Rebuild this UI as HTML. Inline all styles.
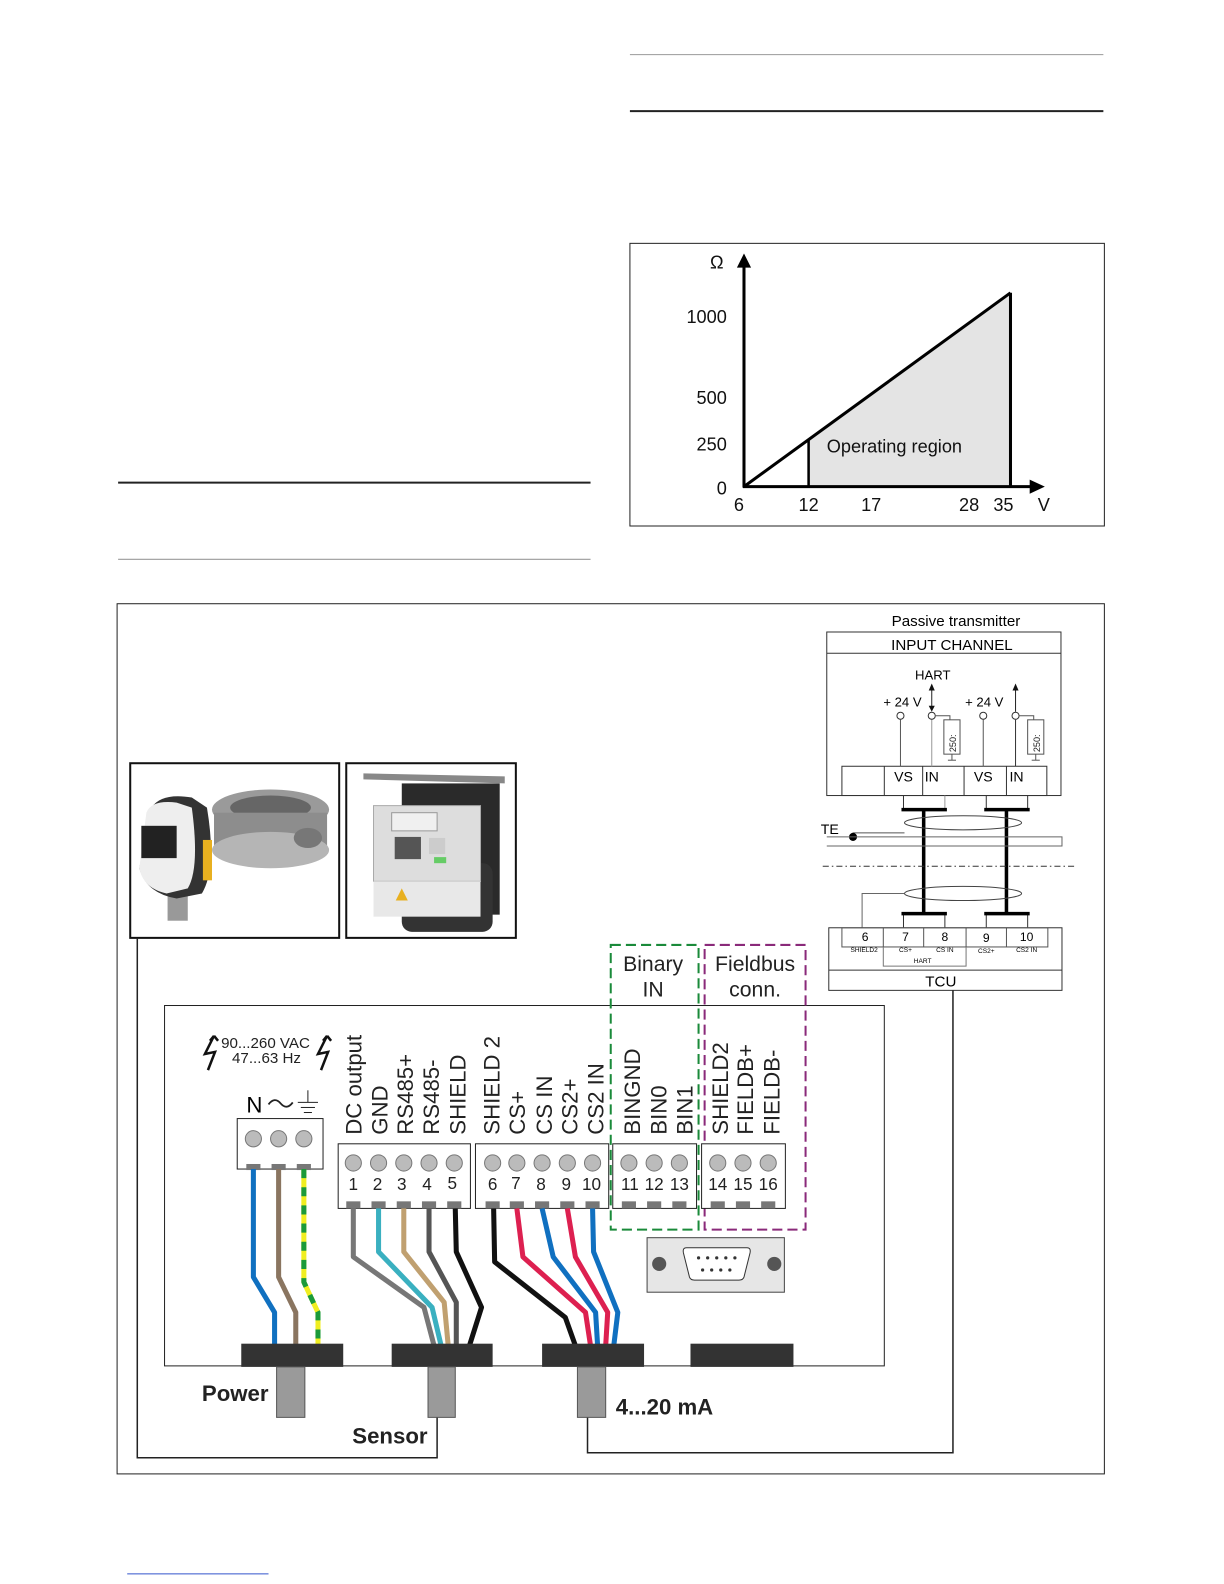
<!DOCTYPE html>
<html><head><meta charset="utf-8"><style>html,body{margin:0;padding:0;background:#fff}svg{display:block}text{font-family:"Liberation Sans",Arial,sans-serif}</style></head><body>
<svg width="1224" height="1584" viewBox="0 0 1212.5 1569" xmlns="http://www.w3.org/2000/svg">
<rect width="1212.5" height="1569" fill="#fff"/>
<line x1="624" y1="54" x2="1093" y2="54" stroke="#999" stroke-width="1"/>
<line x1="624" y1="110" x2="1093" y2="110" stroke="#222" stroke-width="2"/>
<line x1="117" y1="478" x2="585" y2="478" stroke="#222" stroke-width="2"/>
<line x1="117" y1="554" x2="585" y2="554" stroke="#999" stroke-width="1"/>
<line x1="126" y1="1559" x2="266" y2="1559" stroke="#3355cc" stroke-width="1"/>

<rect x="624" y="241" width="470" height="280" fill="none" stroke="#222" stroke-width="1"/>
<polygon points="801,436 1001,290 1001,482 801,482" fill="#e4e4e4"/>
<line x1="737" y1="482" x2="1001" y2="290" stroke="#000" stroke-width="3"/>
<line x1="801" y1="482" x2="801" y2="436" stroke="#000" stroke-width="2.5"/>
<line x1="1001" y1="482" x2="1001" y2="290" stroke="#000" stroke-width="3"/>
<line x1="737" y1="483" x2="737" y2="262" stroke="#000" stroke-width="3"/>
<polygon points="730,265 744,265 737,251" fill="#000"/>
<line x1="736" y1="482" x2="1022" y2="482" stroke="#000" stroke-width="3"/>
<polygon points="1020,475 1020,489 1035,482" fill="#000"/>
<g font-size="18" fill="#111">
<text x="710" y="266" text-anchor="middle">Ω</text>
<text x="720" y="320" text-anchor="end">1000</text>
<text x="720" y="400" text-anchor="end">500</text>
<text x="720" y="446" text-anchor="end">250</text>
<text x="720" y="490" text-anchor="end">0</text>
<text x="732" y="506" text-anchor="middle">6</text>
<text x="801" y="506" text-anchor="middle">12</text>
<text x="863" y="506" text-anchor="middle">17</text>
<text x="960" y="506" text-anchor="middle">28</text>
<text x="994" y="506" text-anchor="middle">35</text>
<text x="1034" y="506" text-anchor="middle">V</text>
<text x="819" y="448">Operating region</text>
</g>

<rect x="116" y="598" width="978" height="862" fill="none" stroke="#222" stroke-width="1"/>

<text x="947" y="620" font-size="15" text-anchor="middle">Passive transmitter</text>
<rect x="819" y="626" width="232" height="162" fill="none" stroke="#333"/>
<line x1="819" y1="647" x2="1051" y2="647" stroke="#333"/>
<text x="943" y="644" font-size="15" text-anchor="middle">INPUT CHANNEL</text>
<rect x="834" y="759" width="203" height="29" fill="none" stroke="#333"/>
<g stroke="#333"><line x1="876" y1="759" x2="876" y2="788"/><line x1="914" y1="759" x2="914" y2="788"/><line x1="955" y1="759" x2="955" y2="788"/><line x1="997" y1="759" x2="997" y2="788"/></g>
<g font-size="14"><text x="895" y="774" text-anchor="middle">VS</text><text x="916" y="774">IN</text><text x="974" y="774" text-anchor="middle">VS</text><text x="1000" y="774">IN</text></g>
<g font-size="13" text-anchor="middle"><text x="894" y="700">+ 24 V</text><text x="975" y="700">+ 24 V</text><text x="924" y="673">HART</text></g>
<g stroke="#555" fill="none">
<line x1="892" y1="713" x2="892" y2="759"/><line x1="923" y1="713" x2="923" y2="759" stroke="#999"/>
<line x1="974" y1="713" x2="974" y2="759"/><line x1="1006" y1="713" x2="1006" y2="759" stroke="#333"/>
<polyline points="927,709 941,709 941,713"/><rect x="935" y="713" width="16" height="34"/><line x1="943" y1="747" x2="943" y2="753"/><line x1="939" y1="753" x2="947" y2="753"/>
<polyline points="1010,709 1024,709 1024,713"/><rect x="1018" y="713" width="16" height="34"/><line x1="1026" y1="747" x2="1026" y2="753"/><line x1="1022" y1="753" x2="1030" y2="753"/>
</g>
<g fill="#fff" stroke="#333"><circle cx="892" cy="709" r="3.5"/><circle cx="923" cy="709" r="3.5"/><circle cx="974" cy="709" r="3.5"/><circle cx="1006" cy="709" r="3.5"/></g>
<g font-size="9" fill="#222"><text transform="translate(947,745) rotate(-90)">250:</text><text transform="translate(1030,745) rotate(-90)">250:</text></g>
<line x1="923" y1="683" x2="923" y2="700" stroke="#222"/><polygon points="920,684 926,684 923,677" fill="#111"/><polygon points="920,699 926,699 923,705" fill="#111"/>
<line x1="1006" y1="683" x2="1006" y2="705" stroke="#222"/><polygon points="1003,684 1009,684 1006,677" fill="#111"/>
<g stroke="#333" fill="none">
<polyline points="895,788 895,802"/><polyline points="936,788 936,802" stroke="#999"/>
<polyline points="977,788 977,802"/><polyline points="1018,788 1018,802"/>
<polyline points="895,905 895,919"/><polyline points="936,905 936,919"/>
<polyline points="977,905 977,919"/><polyline points="1018,905 1018,919"/>
</g>
<g stroke="#000" stroke-width="3.5"><line x1="893" y1="802" x2="938" y2="802"/><line x1="975" y1="802" x2="1020" y2="802"/><line x1="893" y1="905" x2="938" y2="905"/><line x1="975" y1="905" x2="1020" y2="905"/><line x1="915" y1="802" x2="915" y2="905"/><line x1="997" y1="802" x2="997" y2="905"/></g>
<g fill="none" stroke="#444"><ellipse cx="954" cy="815" rx="58" ry="7"/><ellipse cx="954" cy="885" rx="58" ry="7"/></g>
<text x="813" y="826" font-size="14">TE</text>
<polyline points="845,829 845,825 896,825" fill="none" stroke="#555"/>
<circle cx="845" cy="829" r="4" fill="#000"/>
<polyline points="819,829 1052,829 1052,838 819,838" fill="none" stroke="#666"/>
<line x1="815" y1="858" x2="1064" y2="858" stroke="#333" stroke-dasharray="6,3,1.5,3"/>
<polyline points="854,919 854,885 896,885" fill="none" stroke="#666"/>
<rect x="821" y="919" width="231" height="62" fill="none" stroke="#333"/>
<rect x="834" y="919" width="204" height="19" fill="none" stroke="#555"/>
<g stroke="#555"><line x1="875" y1="919" x2="875" y2="938"/><line x1="915" y1="919" x2="915" y2="938"/><line x1="957" y1="919" x2="957" y2="938"/><line x1="997" y1="919" x2="997" y2="938"/></g>
<polyline points="875,938 875,957 957,957 957,938" fill="none" stroke="#777"/>
<line x1="821" y1="961" x2="1052" y2="961" stroke="#333"/>
<g font-size="12" text-anchor="middle"><text x="857" y="932">6</text><text x="897" y="932">7</text><text x="936" y="932">8</text><text x="977" y="933">9</text><text x="1017" y="932">10</text></g>
<g font-size="6.5" text-anchor="middle"><text x="856" y="943">SHIELD2</text><text x="897" y="943">CS+</text><text x="936" y="943">CS IN</text><text x="977" y="944">CS2+</text><text x="1017" y="943">CS2 IN</text><text x="914" y="954">HART</text></g>
<text x="932" y="977" font-size="15" text-anchor="middle">TCU</text>

<rect x="129" y="756" width="207" height="173" fill="#fff" stroke="#111" stroke-width="2"/>
<ellipse cx="268" cy="802" rx="58" ry="20" fill="#9a9a9a"/><ellipse cx="268" cy="800" rx="40" ry="12" fill="#666"/>
<rect x="212" y="805" width="112" height="35" fill="#8d8d8d"/>
<ellipse cx="268" cy="842" rx="58" ry="18" fill="#b5b5b5"/>
<ellipse cx="305" cy="830" rx="14" ry="10" fill="#777"/>
<rect x="166" y="880" width="20" height="32" fill="#999"/>
<path d="M150 800 Q160 785 190 790 L205 800 Q215 860 200 885 L175 890 Q145 885 138 860 Z" fill="#333"/>
<path d="M145 805 Q150 792 175 795 L190 800 Q198 860 186 880 L165 885 Q142 880 138 860 Z" fill="#eee"/>
<rect x="140" y="818" width="35" height="32" fill="#222"/>
<rect x="201" y="832" width="9" height="40" fill="#e8b020"/>
<rect x="343" y="756" width="168" height="173" fill="#fff" stroke="#111" stroke-width="2"/>
<polygon points="360,766 500,769 500,776 360,772" fill="#888"/>
<rect x="398" y="776" width="97" height="130" fill="#2a2a2a"/>
<rect x="398" y="855" width="90" height="68" rx="10" fill="#333"/>
<rect x="370" y="798" width="106" height="75" fill="#ddd" stroke="#aaa"/>
<rect x="370" y="873" width="106" height="35" fill="#e8e8e8"/>
<rect x="388" y="805" width="45" height="18" fill="#f0f0f0" stroke="#999"/>
<rect x="391" y="829" width="26" height="22" fill="#555"/>
<rect x="425" y="830" width="16" height="16" fill="#ccc"/>
<rect x="430" y="849" width="12" height="6" fill="#6c6"/>
<polygon points="398,880 392,892 404,892" fill="#e8b020"/>

<polyline points="136,929 136,1444 433,1444 433,1404" fill="none" stroke="#222" stroke-width="1.5"/>
<polyline points="582,1404 582,1439 944,1439 944,981" fill="none" stroke="#222" stroke-width="1.5"/>

<rect x="163" y="996" width="713" height="357" fill="#fff" stroke="#222" stroke-width="1"/>

<rect x="605" y="936" width="87" height="282" fill="none" stroke="#1a8a3a" stroke-width="2" stroke-dasharray="10,5"/>
<rect x="698" y="936" width="100" height="282" fill="none" stroke="#8a2a7a" stroke-width="2" stroke-dasharray="10,5"/>
<g font-size="21" text-anchor="middle" fill="#222"><text x="647" y="962">Binary</text><text x="647" y="987">IN</text><text x="748" y="962">Fieldbus</text><text x="748" y="987">conn.</text></g>

<g font-size="15" fill="#222"><text x="219" y="1038">90...260 VAC</text><text x="264" y="1053" text-anchor="middle">47...63 Hz</text></g>
<path d="M212 1026 L203 1044 L213 1042 L206 1060 M212 1026 L216 1031 M212 1026 L208 1031" fill="none" stroke="#111" stroke-width="2.5"/>
<path d="M324 1026 L315 1044 L325 1042 L318 1060 M324 1026 L328 1031 M324 1026 L320 1031" fill="none" stroke="#111" stroke-width="2.5"/>
<text x="244" y="1102" font-size="22">N</text>
<path d="M266 1094 Q272 1086 278 1093 Q284 1100 290 1092" fill="none" stroke="#222" stroke-width="1.8"/>
<g stroke="#222"><line x1="305" y1="1080" x2="305" y2="1092"/><line x1="295" y1="1092" x2="315" y2="1092"/><line x1="298" y1="1097" x2="312" y2="1097"/><line x1="301" y1="1102" x2="309" y2="1102"/></g>
<rect x="235" y="1108" width="85" height="50" fill="#fff" stroke="#222"/>
<g fill="#bbb" stroke="#777"><circle cx="251" cy="1128" r="8"/><circle cx="276" cy="1128" r="8"/><circle cx="301" cy="1128" r="8"/></g>
<g fill="#777"><rect x="244" y="1153" width="14" height="6"/><rect x="269" y="1153" width="14" height="6"/><rect x="294" y="1153" width="14" height="6"/></g>

<g fill="#fff" stroke="#222"><rect x="335" y="1133" width="131" height="64"/><rect x="471" y="1133" width="132" height="64"/><rect x="607" y="1133" width="83" height="64"/><rect x="695" y="1133" width="83" height="64"/></g>
<g fill="#bbb" stroke="#777">
<circle cx="350" cy="1152" r="8"/><circle cx="375" cy="1152" r="8"/><circle cx="400" cy="1152" r="8"/><circle cx="425" cy="1152" r="8"/><circle cx="450" cy="1152" r="8"/>
<circle cx="488" cy="1152" r="8"/><circle cx="512" cy="1152" r="8"/><circle cx="537" cy="1152" r="8"/><circle cx="562" cy="1152" r="8"/><circle cx="587" cy="1152" r="8"/>
<circle cx="623" cy="1152" r="8"/><circle cx="648" cy="1152" r="8"/><circle cx="673" cy="1152" r="8"/>
<circle cx="711" cy="1152" r="8"/><circle cx="736" cy="1152" r="8"/><circle cx="761" cy="1152" r="8"/>
</g>
<g fill="#777">
<rect x="343" y="1190" width="14" height="7"/><rect x="368" y="1190" width="14" height="7"/><rect x="393" y="1190" width="14" height="7"/><rect x="418" y="1190" width="14" height="7"/><rect x="443" y="1190" width="14" height="7"/>
<rect x="481" y="1190" width="14" height="7"/><rect x="505" y="1190" width="14" height="7"/><rect x="530" y="1190" width="14" height="7"/><rect x="555" y="1190" width="14" height="7"/><rect x="580" y="1190" width="14" height="7"/>
<rect x="616" y="1190" width="14" height="7"/><rect x="641" y="1190" width="14" height="7"/><rect x="666" y="1190" width="14" height="7"/>
<rect x="704" y="1190" width="14" height="7"/><rect x="729" y="1190" width="14" height="7"/><rect x="754" y="1190" width="14" height="7"/>
</g>
<g font-size="17" text-anchor="middle" fill="#222">
<text x="350" y="1179">1</text><text x="374" y="1179">2</text><text x="398" y="1179">3</text><text x="423" y="1179">4</text><text x="448" y="1178">5</text>
<text x="488" y="1179">6</text><text x="511" y="1178">7</text><text x="536" y="1179">8</text><text x="561" y="1179">9</text><text x="586" y="1179">10</text>
<text x="624" y="1179">11</text><text x="648" y="1179">12</text><text x="673" y="1179">13</text>
<text x="711" y="1179">14</text><text x="736" y="1179">15</text><text x="761" y="1179">16</text>
</g>
<g font-size="22" fill="#222">
<text transform="translate(358,1124) rotate(-90)">DC output</text>
<text transform="translate(384,1124) rotate(-90)">GND</text>
<text transform="translate(409,1124) rotate(-90)">RS485+</text>
<text transform="translate(435,1124) rotate(-90)">RS485-</text>
<text transform="translate(461,1124) rotate(-90)">SHIELD</text>
<text transform="translate(495,1124) rotate(-90)">SHIELD 2</text>
<text transform="translate(520,1124) rotate(-90)">CS+</text>
<text transform="translate(547,1124) rotate(-90)">CS IN</text>
<text transform="translate(572,1124) rotate(-90)">CS2+</text>
<text transform="translate(598,1124) rotate(-90)">CS2 IN</text>
<text transform="translate(634,1124) rotate(-90)">BINGND</text>
<text transform="translate(660,1124) rotate(-90)">BIN0</text>
<text transform="translate(686,1124) rotate(-90)">BIN1</text>
<text transform="translate(721,1124) rotate(-90)">SHIELD2</text>
<text transform="translate(746,1124) rotate(-90)">FIELDB+</text>
<text transform="translate(772,1124) rotate(-90)">FIELDB-</text>
</g>

<rect x="641" y="1226" width="136" height="54" fill="#e6e6e6" stroke="#444"/>
<circle cx="653" cy="1252" r="7" fill="#555"/><circle cx="767" cy="1252" r="7" fill="#555"/>
<path d="M680 1236 L740 1236 Q744 1236 743 1241 L737 1265 Q736 1268 732 1268 L688 1268 Q684 1268 683 1265 L677 1241 Q676 1236 680 1236 Z" fill="#fff" stroke="#333"/>
<g fill="#333"><circle cx="692" cy="1246" r="1.6"/><circle cx="701" cy="1246" r="1.6"/><circle cx="710" cy="1246" r="1.6"/><circle cx="719" cy="1246" r="1.6"/><circle cx="728" cy="1246" r="1.6"/><circle cx="696" cy="1258" r="1.6"/><circle cx="705" cy="1258" r="1.6"/><circle cx="714" cy="1258" r="1.6"/><circle cx="723" cy="1258" r="1.6"/></g>

<g fill="none" stroke-width="5" stroke-linejoin="round">
<polyline points="251,1158 251,1265 272,1300 272,1333" stroke="#1070c0"/>
<polyline points="276,1158 276,1265 293,1300 293,1333" stroke="#8a7560"/>
<polyline points="301,1158 301,1270 315,1300 315,1333" stroke="#f0ee20"/>
<polyline points="301,1158 301,1270 315,1300 315,1333" stroke="#1a9a3a" stroke-dasharray="9,9"/>
<polyline points="350,1197 350,1245 420,1295 430,1333" stroke="#777"/>
<polyline points="375,1197 375,1240 428,1295 437,1333" stroke="#3ab0c0"/>
<polyline points="400,1197 400,1240 440,1290 444,1333" stroke="#c0a070"/>
<polyline points="425,1197 425,1240 452,1290 452,1333" stroke="#555"/>
<polyline points="451,1197 452,1240 477,1295 465,1333" stroke="#111"/>
<polyline points="489,1197 490,1250 560,1305 570,1333" stroke="#111"/>
<polyline points="512,1197 518,1245 580,1300 585,1333" stroke="#dd2050"/>
<polyline points="537,1197 548,1245 590,1300 592,1333" stroke="#1070c0"/>
<polyline points="562,1197 570,1245 602,1300 600,1333" stroke="#dd2050"/>
<polyline points="587,1197 588,1240 612,1300 608,1333" stroke="#1070c0"/>
</g>

<g fill="#333"><rect x="239" y="1331" width="101" height="23"/><rect x="388" y="1331" width="100" height="23"/><rect x="537" y="1331" width="101" height="23"/><rect x="684" y="1331" width="102" height="23"/></g>
<g fill="#9a9a9a" stroke="#555"><rect x="274" y="1354" width="28" height="50"/><rect x="424" y="1354" width="27" height="50"/><rect x="572" y="1354" width="28" height="50"/></g>
<g font-size="22" font-weight="bold" fill="#222"><text x="200" y="1388">Power</text><text x="349" y="1430">Sensor</text><text x="610" y="1401">4...20 mA</text></g>
</svg>
</body></html>
